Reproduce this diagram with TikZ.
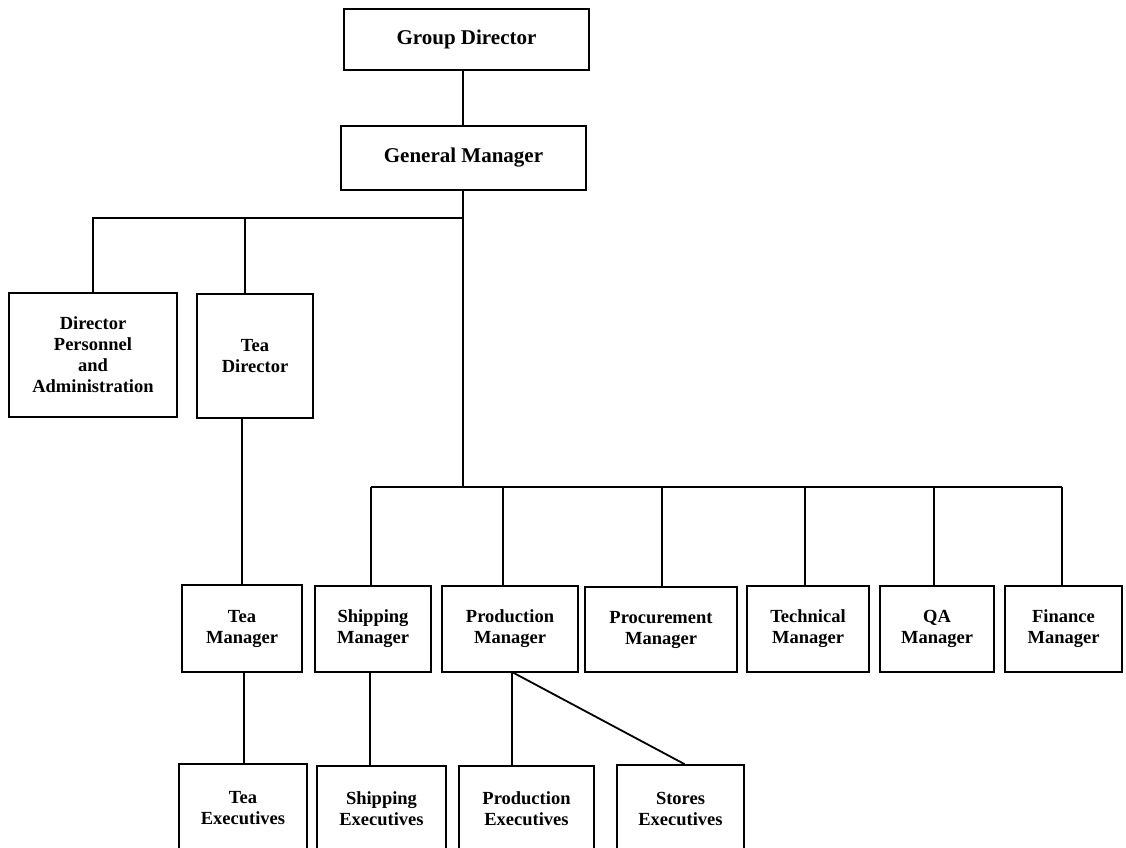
\documentclass[tikz,border=0pt]{standalone}
\usepackage{fontspec}
\setmainfont{Liberation Serif}
\usetikzlibrary{calc}
\tikzset{
  box/.style={draw=black, line width=1.8pt, fill=white, inner sep=0pt, align=center,
    font=\fontsize{18.5}{21}\selectfont\bfseries},
  topbox/.style={box, font=\fontsize{21}{24}\selectfont\bfseries},
  link/.style={draw=black, line width=1.8pt},
}
\begin{document}
\begin{tikzpicture}[x=1pt, y=-1pt]
\useasboundingbox (0,0) rectangle (1126,847);
\clip (0,0) rectangle (1126,847);
\fill[white] (0,0) rectangle (1126,847);

% top
\node[topbox, line width=2.6pt, minimum width=245pt, minimum height=61pt] (gd) at (466.5,39.5) {Group Director};
\node[topbox, minimum width=245pt, minimum height=64pt] (gm) at (463.5,158) {General Manager};

% second level
\node[box, minimum width=168pt, minimum height=124pt] (dpa) at (93,355) {Director\\Personnel\\and\\Administration};
\node[box, minimum width=116pt, minimum height=124pt] (td) at (255,356) {Tea\\Director};

% managers
\node[box, minimum width=120pt, minimum height=87pt] (tm) at (242,628.5) {Tea\\Manager};
\node[box, minimum width=116pt, minimum height=86pt] (sm) at (373,629) {Shipping\\Manager};
\node[box, minimum width=136pt, minimum height=86pt] (pm) at (510,629) {Production\\Manager};
\node[box, minimum width=152pt, minimum height=85pt] (prm) at (661,629.5) {Procurement\\Manager};
\node[box, minimum width=122pt, minimum height=86pt] (tech) at (808,629) {Technical\\Manager};
\node[box, minimum width=114pt, minimum height=86pt] (qa) at (937,629) {QA\\Manager};
\node[box, minimum width=117pt, minimum height=86pt] (fin) at (1063.5,629) {Finance\\Manager};

% executives
\node[box, minimum width=128pt, minimum height=88pt] (te) at (243,808) {Tea\\Executives};
\node[box, minimum width=129pt, minimum height=86pt] (se) at (381.5,809) {Shipping\\Executives};
\node[box, minimum width=135pt, minimum height=86pt] (pe) at (526.5,809) {Production\\Executives};
\node[box, minimum width=127pt, minimum height=87pt] (ste) at (680.5,808.5) {Stores\\Executives};

% junctions
\coordinate (j1) at (463,218);
\coordinate (j2) at (463,487);
\coordinate (ktd) at (245,218);
\coordinate (b1) at (371,487);
\coordinate (b2) at (503,487);
\coordinate (b3) at (662,487);
\coordinate (b4) at (805,487);
\coordinate (b5) at (934,487);
\coordinate (b6) at (1062,487);
\coordinate (pmfoot) at (512,672);

% connectors
\draw[link] (gd.south -| j1) -- (gm.north -| j1);
\draw[link] (gm.south -| j1) -- (j2);
\draw[link] (j1) -| (dpa.north);
\draw[link] (ktd) -- (ktd |- td.north);
\draw[link] (td.south -| tm.north) -- (tm.north);
\draw[link] ([xshift=2pt]tm.south) -- ([xshift=2pt]tm.south |- te.north);

\draw[link] (b1) -- (b6);
\draw[link] (b1) -- (b1 |- sm.north);
\draw[link] (b2) -- (b2 |- pm.north);
\draw[link] (b3) -- (b3 |- prm.north);
\draw[link] (b4) -- (b4 |- tech.north);
\draw[link] (b5) -- (b5 |- qa.north);
\draw[link] (b6) -- (b6 |- fin.north);

\draw[link] ([xshift=-3pt]sm.south) -- ([xshift=-3pt]sm.south |- se.north);
\draw[link] (pmfoot) -- (pmfoot |- pe.north);
\draw[link] (pmfoot) -- ([xshift=4pt]ste.north);
\end{tikzpicture}
\end{document}
